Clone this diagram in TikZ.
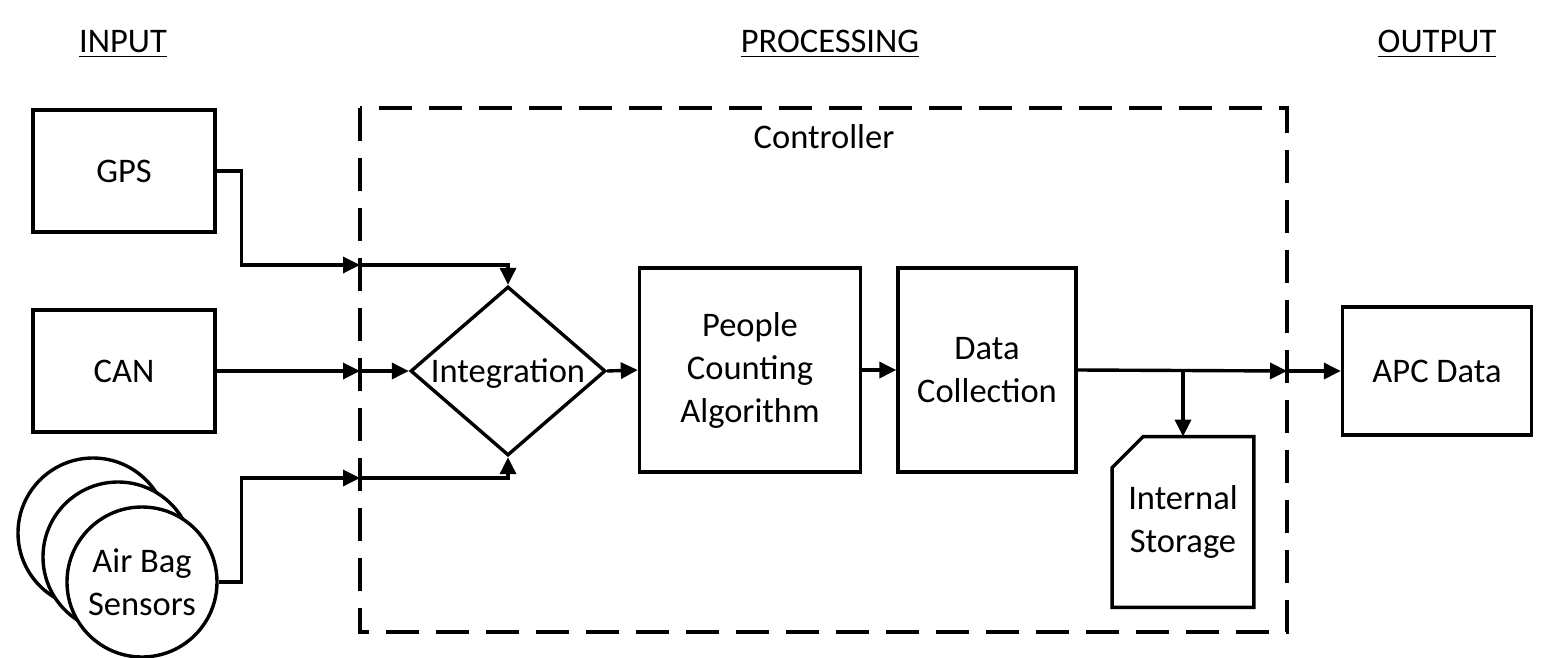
\documentclass[tikz,border=0pt]{standalone}
\usepackage{fontspec}
\setmainfont{Carlito}
\usetikzlibrary{arrows.meta,shapes.geometric}

\begin{document}
\begin{tikzpicture}[
    x=0.5pt, y=-0.5pt,
    font=\fontsize{17.25}{21.5}\selectfont,
    blockbox/.style={rectangle, draw, line width=1.7pt, align=center, inner sep=2pt},
    sensor/.style={circle, draw, line width=1.7pt, fill=white, minimum size=75pt, inner sep=0pt, align=center},
    header/.style={anchor=base, inner sep=0pt},
    arr/.style={-{Triangle[length=8.5pt,width=8pt]}, line width=1.7pt, line join=miter},
    ln/.style={line width=1.7pt}
]
\useasboundingbox (0,0) rectangle (1541,658);

% headers
\node[header] (hin)   at (123,53)  {\underline{INPUT}};
\node[header] (hproc) at (830,53)  {\underline{PROCESSING}};
\node[header] (hout)  at (1437,53) {\underline{OUTPUT}};

% controller boundary
\draw[line width=1.7pt, dash pattern=on 16.5pt off 8.5pt] (360,108) rectangle (1287,632);
\node (ctrl) at (824,137) {Controller};

% inputs
\node[blockbox, minimum width=91pt, minimum height=61pt] (gps) at (124,171) {GPS};
\node[blockbox, minimum width=91pt, minimum height=61pt] (can) at (124,371) {CAN};
\node[sensor] (bag3) at (93,533)  {};
\node[sensor] (bag2) at (118,557) {};
\node[sensor] (bag1) at (142,582) {Air Bag\\Sensors};

% processing
\node[diamond, draw, line width=1.7pt, aspect=1.154, inner sep=0pt,
      minimum width=97.5pt, minimum height=84.5pt] (integ) at (508,371) {};
\node at ([yshift=-1.5pt]integ.center) {Integration};
\node[blockbox, minimum width=110.5pt, minimum height=102pt] (pca) at (750,370) {People\\Counting\\Algorithm};
\node[blockbox, minimum width=89pt, minimum height=102pt] (data) at (987,370) {Data\\Collection};
\node[minimum width=70.5pt, minimum height=85pt, align=center, inner sep=0pt] (store) at (1183,522) {Internal\\Storage};
\draw[ln, line join=miter] ([yshift=-15.5pt]store.north west) -- ([xshift=15.5pt]store.north west)
    -- (store.north east) -- (store.south east) -- (store.south west) -- cycle;

% output
\node[blockbox, minimum width=94.5pt, minimum height=64pt] (apc) at (1437,371) {APC Data};

% points on the boundary
\coordinate (gpsin) at (360,265);
\coordinate (canin) at (360,371);
\coordinate (bagin) at (360,478);
\coordinate (split) at (1183,371);
\coordinate (apcout) at (1287,371);

% connectors
\draw[arr] (gps.east) -- ++(25,0) |- (gpsin);
\draw[arr] (gpsin) -| (integ.north);
\draw[arr] (can.east) -- (canin);
\draw[arr] (canin) -- (integ.west);
\draw[arr] (bag1.east) -- ++(23,0) |- (bagin);
\draw[arr] (bagin) -| (integ.south);
\draw[arr] (integ.east) -- (pca.west);
\draw[arr] (pca.east) -- (data.west);
\draw[arr] (data.east) -- (apcout);
\draw[arr] (apcout) -- (apc.west);
\draw[arr] (split) -- (store.north);
\end{tikzpicture}
\end{document}
